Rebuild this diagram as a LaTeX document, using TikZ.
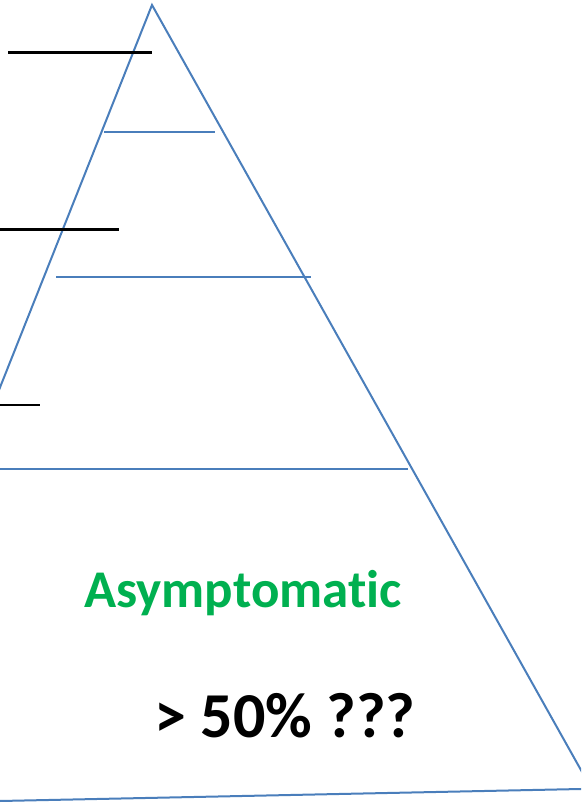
\documentclass[tikz,border=0pt]{standalone}
\usepackage{fontspec}
\setmainfont{Carlito}[Ligatures=CommonOff]
\definecolor{pyrblue}{HTML}{4A7EBB}
\definecolor{asgreen}{HTML}{00B050}
\tikzset{
  edgeline/.style={draw=pyrblue, line width=2pt},
  tickline/.style={draw=black, line width=2.4pt},
  bigtext/.style={font=\fontsize{53}{60}\selectfont\bfseries, inner sep=0pt, anchor=base},
  pcttext/.style={font=\fontsize{64}{70}\selectfont\bfseries, inner sep=0pt, anchor=base}
}
\begin{document}
\begin{tikzpicture}[x=1pt,y=-1pt]
\useasboundingbox (0,0) rectangle (581,805);
\clip (0,0) rectangle (581,805);
% triangle corners
\coordinate (apex) at (152,5);
\coordinate (leftend) at (-160,790);
\coordinate (rightend) at (600,804);
\coordinate (bl) at (-10,801.2);
\coordinate (br) at (600,788.6);
\draw[edgeline] (leftend) -- (apex) -- (rightend);
\draw[edgeline] (bl) -- (br);
% inner blue levels
\coordinate (b1a) at (104,132.5); \coordinate (b1b) at (215,132.5);
\coordinate (b2a) at (56,277); \coordinate (b2b) at (311,277);
\coordinate (b3a) at (-5,468.5); \coordinate (b3b) at (408,468.5);
\draw[edgeline] (b1a) -- (b1b);
\draw[edgeline] (b2a) -- (b2b);
\draw[edgeline] (b3a) -- (b3b);
% black label lines
\coordinate (k1a) at (8,52.5); \coordinate (k1b) at (152,52.5);
\coordinate (k2a) at (-5,229.5); \coordinate (k2b) at (119,229.5);
\coordinate (k3a) at (-5,405); \coordinate (k3b) at (40,405);
\draw[tickline] (k1a) -- (k1b);
\draw[tickline] (k2a) -- (k2b);
\draw[tickline] (k3a) -- (k3b);
% texts
\node[bigtext, text=asgreen] (asym) at (243,607) {Asymptomatic};
\node[pcttext, text=black] (pct) at (285,737) {> 50\% ???};
\end{tikzpicture}
\end{document}
